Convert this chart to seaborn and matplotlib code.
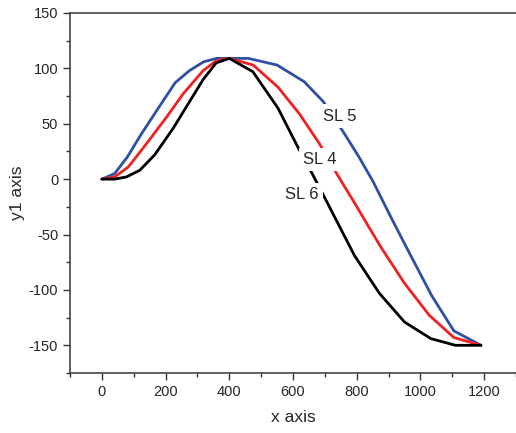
import pandas as pd
import matplotlib
matplotlib.use("Agg")
import matplotlib.pyplot as plt
import seaborn as sns
from matplotlib.ticker import MultipleLocator

# data
x_sl5 = [0, 40, 80, 120, 170, 230, 275, 320, 360, 400, 460, 550, 635, 695, 757, 805, 851, 905, 955, 1035, 1105, 1190]
y_sl5 = [0, 5, 20, 39, 61, 87, 98, 106, 109, 109, 109, 103, 88, 70, 43, 21, -2, -33, -61, -105, -137, -150]

x_sl4 = [0, 40, 83, 140, 203, 255, 318, 360, 400, 475, 553, 620, 683, 735, 790, 875, 950, 1028, 1105, 1190]
y_sl4 = [0, 2, 11, 32, 56, 77, 98, 107, 109, 103, 83, 59, 32, 6, -20, -61, -94, -123, -143, -150]

x_sl6 = [0, 40, 77, 119, 166, 224, 271, 318, 359, 400, 474, 553, 615, 662, 700, 725, 793, 871, 950, 1033, 1110, 1190]
y_sl6 = [0, 0, 2, 8, 22, 46, 68, 90, 105, 109, 97, 64, 29, 4, -17, -31, -69, -103, -129, -144, -150, -150]

labels = ["SL 5", "SL 4", "SL 6"]
label_xy = [(748, 57), (685, 18), (629, -14)]

df = pd.concat([
    pd.DataFrame({"x": x_sl5, "y": y_sl5, "series": "SL 5"}),
    pd.DataFrame({"x": x_sl4, "y": y_sl4, "series": "SL 4"}),
    pd.DataFrame({"x": x_sl6, "y": y_sl6, "series": "SL 6"}),
])

sns.set_style("white")
plt.rcParams["font.family"] = ["Liberation Sans", "DejaVu Sans"]
plt.rcParams["axes.unicode_minus"] = False

colors = {"SL 5": "#2f4fa2", "SL 4": "#ee2222", "SL 6": "#000000"}

fig = plt.figure(figsize=(5.16, 4.33), dpi=100)
ax = fig.add_axes([0.1357, 0.1386, 0.8643, 0.8314])

sns.lineplot(data=df, x="x", y="y", hue="series", palette=colors,
             sort=False, estimator=None, linewidth=2.0, legend=False, ax=ax)

for lab, (lx, ly) in zip(labels, label_xy):
    ax.text(lx, ly, lab, fontsize=12, ha="center", va="center",
            bbox=dict(facecolor="white", edgecolor="none", pad=3), zorder=5)

ax.set_xlim(-100, 1300)
ax.set_ylim(-175, 150)
ax.xaxis.set_major_locator(MultipleLocator(200))
ax.xaxis.set_minor_locator(MultipleLocator(100))
ax.yaxis.set_major_locator(MultipleLocator(50))
ax.yaxis.set_minor_locator(MultipleLocator(25))
ax.tick_params(which="both", direction="out", bottom=True, left=True,
               top=False, right=False, color="#333333", labelsize=10.5)
ax.tick_params(which="major", length=5, width=1)
ax.tick_params(which="minor", length=3, width=1)

for side in ["left", "bottom", "top"]:
    ax.spines[side].set_color("#444444")
    ax.spines[side].set_linewidth(1.2)
ax.spines["right"].set_visible(False)

ax.set_xlabel("x axis", fontsize=12.5, labelpad=8)
ax.set_ylabel("y1 axis", fontsize=12.5, labelpad=3)

plt.savefig("out.png", dpi=100)
plt.close()
